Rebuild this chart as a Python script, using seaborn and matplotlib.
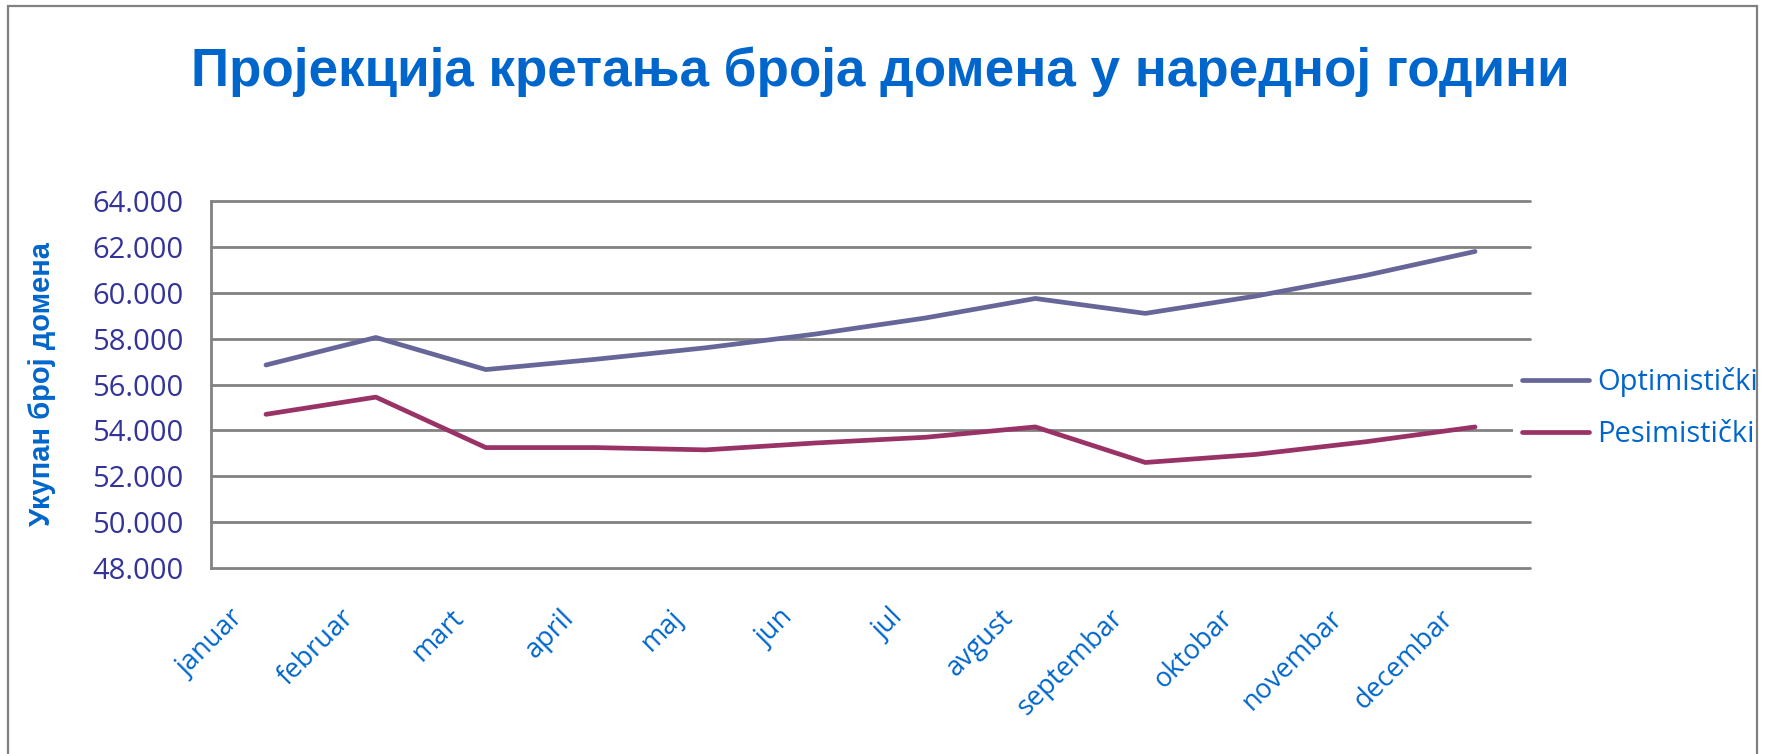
import matplotlib
matplotlib.use("Agg")
import matplotlib.pyplot as plt
import matplotlib.patches as mpatches
import matplotlib.transforms as mtransforms
from matplotlib.ticker import FuncFormatter, MultipleLocator
import seaborn as sns
import pandas as pd

# ---- data ----
months = ["januar", "februar", "mart", "april", "maj", "jun", "jul",
          "avgust", "septembar", "oktobar", "novembar", "decembar"]
optimisticki = [56850, 58050, 56650, 57100, 57600, 58200, 58900,
                59750, 59100, 59850, 60750, 61800]
pesimisticki = [54700, 55450, 53250, 53250, 53150, 53450, 53700,
                54150, 52600, 52950, 53500, 54150]
series_names = ["Optimistički", "Pesimistički"]
title = "Пројекција кретања броја домена у наредној години"
ylabel = "Укупан број домена"

df = pd.DataFrame({
    "mesec": months * 2,
    "vrednost": optimisticki + pesimisticki,
    "serija": [series_names[0]] * len(months) + [series_names[1]] * len(months),
})

sns.set_theme(style="white")
plt.rcParams["font.family"] = ["Open Sans", "DejaVu Sans"]

W, H = 1770, 754
fig = plt.figure(figsize=(W / 100, H / 100), dpi=100)
fig.patch.set_facecolor("white")

left, right, top, bottom = 211, 1530, 201, 568
ax = fig.add_axes([left / W, 1 - bottom / H, (right - left) / W, (bottom - top) / H])

palette = {series_names[0]: "#666699", series_names[1]: "#993366"}
sns.lineplot(data=df, x="mesec", y="vrednost", hue="serija", palette=palette,
             linewidth=3.4, sort=False, ax=ax, zorder=3)

ax.set_xlim(-0.5, len(months) - 0.5)
ax.set_ylim(48000, 64000)
ax.yaxis.set_major_locator(MultipleLocator(2000))
ax.yaxis.set_major_formatter(FuncFormatter(lambda v, p: f"{int(v):,}".replace(",", ".")))
ax.grid(axis="y", color="#828282", linewidth=2.0, zorder=1)
ax.grid(axis="x", visible=False)
for gl in ax.get_ygridlines():
    gl.set_clip_on(False)
for s in ["top", "right", "bottom"]:
    ax.spines[s].set_visible(False)
ax.spines["left"].set_color("#828282")
ax.spines["left"].set_linewidth(2.0)
ax.tick_params(axis="both", length=0)
ax.tick_params(axis="y", labelsize=21, labelcolor="#333399", pad=20)
ax.tick_params(axis="x", labelsize=19.5, labelcolor="#0066CC", pad=26)
ax.set_xlabel("")
ax.set_ylabel("")

offset = mtransforms.ScaledTranslation(-36 / 100, 0, fig.dpi_scale_trans)
for lab in ax.get_xticklabels():
    lab.set_rotation(45)
    lab.set_ha("right")
    lab.set_rotation_mode("anchor")
    lab.set_transform(lab.get_transform() + offset)

fig.text(42 / W, 1 - 384 / H, ylabel, rotation=90, ha="center", va="center",
         fontsize=21, fontweight="bold", color="#0066CC",
         family=["Liberation Sans", "DejaVu Sans"])

fig.text(880 / W, 1 - 72 / H, title, ha="center", va="center",
         fontsize=38.2, fontweight="bold", color="#0066CC",
         family=["Liberation Sans Narrow", "Liberation Sans", "DejaVu Sans"])

handles, labels = ax.get_legend_handles_labels()
ax.legend(handles=handles, labels=labels, loc="center left",
          bbox_to_anchor=(1513 / W, 1 - 408 / H), bbox_transform=fig.transFigure,
          frameon=True, facecolor="white", edgecolor="none", framealpha=1,
          fontsize=21, handlelength=2.3, handletextpad=0.3, labelspacing=0.8,
          borderpad=0.3, borderaxespad=0)
for t in ax.get_legend().get_texts():
    t.set_color("#0066CC")
for l in ax.get_legend().get_lines():
    l.set_linewidth(3.4)

fig.add_artist(mpatches.Rectangle((8 / W, -0.2), (1757 - 8) / W, 1.2 - 6 / H,
                                  transform=fig.transFigure, fill=False,
                                  edgecolor="#808080", linewidth=1.6))

fig.savefig("out.png", dpi=100, facecolor="white")
